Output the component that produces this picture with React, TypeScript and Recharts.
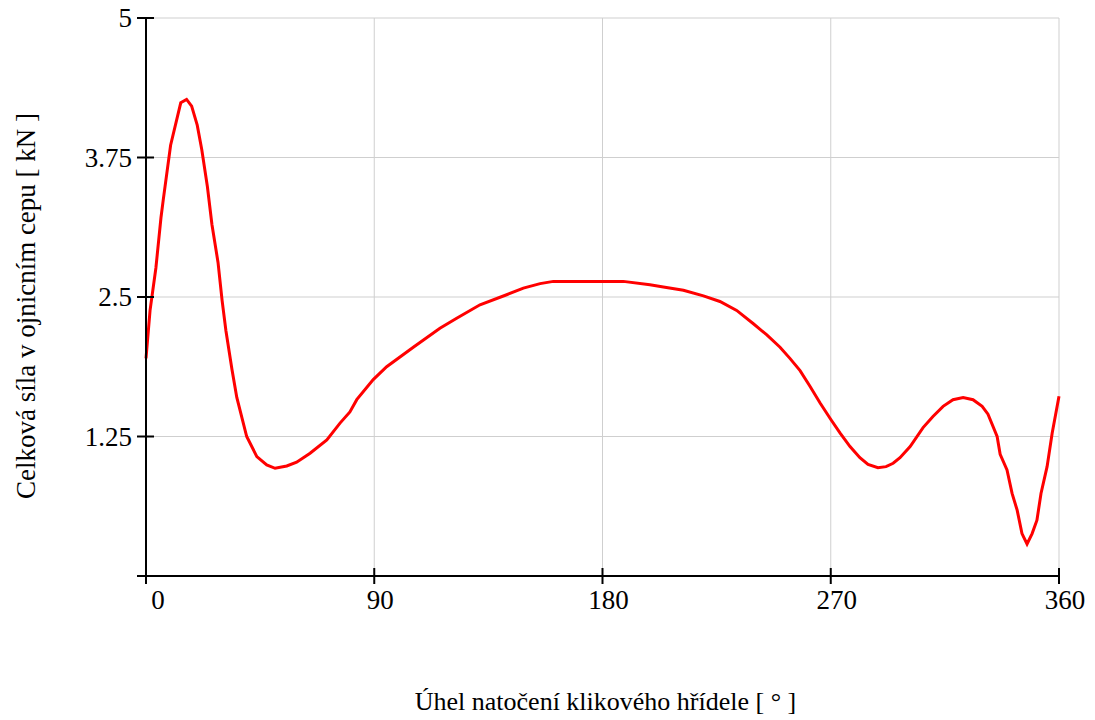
import React from 'react';
import { LineChart, Line, XAxis, YAxis, CartesianGrid, Label } from 'recharts';

const angles = [
  0, 1.6, 3.9, 5.9, 6.8, 9.7, 13.7, 16.0, 18.0, 20.2, 22.0, 24.2, 26.0, 28.4, 30.0, 31.5, 33.9, 35.8, 39.7,
  43.7, 47.6, 50.9, 55.5, 59.4, 64.7, 71.3, 76.5, 80.4, 83.1, 89.6, 94.9, 105.4, 115.9, 122.5, 131.7,
  142.2, 148.8, 155.4, 160.6, 188.2, 198.7, 204.0, 211.9, 219.8, 226.3, 232.9, 239.5, 244.8, 250.0,
  253.9, 257.9, 261.8, 265.8, 270.1, 273.7, 277.6, 281.5, 284.7, 288.6, 291.8, 294.6, 297.3, 301.3,
  306.4, 310.3, 314.3, 318.2, 322.2, 326.1, 329.7, 332.0, 335.6, 336.8, 339.5, 341.5, 343.5, 345.4,
  347.4, 349.4, 351.3, 352.9, 355.3, 357.3, 360,
];

const force = [
  1.95, 2.38, 2.76, 3.21, 3.37, 3.86, 4.24, 4.27, 4.21, 4.04, 3.82, 3.49, 3.15, 2.81, 2.47, 2.2, 1.85, 1.6, 1.25,
  1.07, 0.995, 0.965, 0.986, 1.02, 1.1, 1.22, 1.37, 1.47, 1.58, 1.76, 1.875, 2.05, 2.22, 2.31, 2.43,
  2.52, 2.58, 2.62, 2.64, 2.64, 2.61, 2.59, 2.56, 2.51, 2.46, 2.38, 2.26, 2.16, 2.05,
  1.95, 1.84, 1.7, 1.55, 1.4, 1.28, 1.16, 1.06, 1.0, 0.97, 0.98, 1.01, 1.06, 1.16,
  1.33, 1.43, 1.52, 1.58, 1.6, 1.58, 1.52, 1.45, 1.25, 1.09, 0.95, 0.74, 0.59, 0.38,
  0.287, 0.38, 0.5, 0.74, 0.98, 1.28, 1.61,
];

const xTicks = [0, 90, 180, 270, 360];
const yTicks = [0, 1.25, 2.5, 3.75, 5];
const yTickLabels = ['', '1.25', '2.5', '3.75', '5'];

const xLabel = 'Úhel natočení klikového hřídele [ ° ]';
const yLabel = 'Celková síla v ojnicním cepu [ kN ]';

const data = angles.map((a, i) => ({ deg: a, f: force[i] }));

const FONT = '"Liberation Serif", "Times New Roman", serif';
const W = 1095;
const H = 720;
const M = { top: 18, right: 36, bottom: 0, left: 0 };
const YW = 146;
const XH = 144;
const plotBottom = H - XH;
const plotCenterX = YW + (W - YW - M.right) / 2;
const plotCenterY = M.top + (plotBottom - M.top) / 2;

const XTick = (props: any) => {
  const { x, y, payload } = props;
  const shift = payload.value === 0 ? 12 : 6;
  return (
    <g>
      <line x1={x} x2={x} y1={y - 8} y2={y + 8} stroke="#000" strokeWidth={2} />
      <text x={x + shift} y={y + 33} textAnchor="middle" fontSize={27} fontFamily={FONT} fill="#000">
        {payload.value}
      </text>
    </g>
  );
};

const YTick = (props: any) => {
  const { x, y, payload, index } = props;
  const idx = yTicks.indexOf(payload.value);
  const lbl = idx >= 0 ? yTickLabels[idx] : String(payload.value);
  return (
    <g>
      <line x1={x - 9} x2={x + 8} y1={y} y2={y} stroke="#000" strokeWidth={2} />
      <text x={x - 14} y={y} dy="0.35em" textAnchor="end" fontSize={27} fontFamily={FONT} fill="#000">
        {lbl}
      </text>
    </g>
  );
};

export default function App() {
  return (
    <div style={{ position: 'absolute', left: 0, top: 0, background: '#fff' }}>
      <LineChart width={W} height={H} data={data} margin={M}>
        <CartesianGrid stroke="#cfcfcf" strokeWidth={1} />
        <XAxis
          dataKey="deg"
          type="number"
          domain={[0, 360]}
          ticks={xTicks}
          interval={0}
          height={XH}
          tickSize={0}
          tickMargin={0}
          tickLine={false}
          axisLine={{ stroke: '#000', strokeWidth: 2 }}
          tick={<XTick />}
        >
          <Label
            content={() => (
              <text x={plotCenterX + 3} y={710} textAnchor="middle" fontSize={26} fontFamily={FONT} fill="#000">
                {xLabel}
              </text>
            )}
          />
        </XAxis>
        <YAxis
          type="number"
          domain={[0, 5]}
          ticks={yTicks}
          interval={0}
          width={YW}
          tickSize={0}
          tickMargin={0}
          tickLine={false}
          axisLine={{ stroke: '#000', strokeWidth: 2 }}
          tick={<YTick />}
        >
          <Label
            content={() => (
              <text
                x={35}
                y={plotCenterY + 9}
                transform={`rotate(-90, 35, ${plotCenterY + 9})`}
                textAnchor="middle"
                fontSize={27}
                fontFamily={FONT}
                fill="#000"
              >
                {yLabel}
              </text>
            )}
          />
        </YAxis>
        <Line
          type="linear"
          dataKey="f"
          stroke="#ff0000"
          strokeWidth={3}
          dot={false}
          isAnimationActive={false}
        />
      </LineChart>
    </div>
  );
}
